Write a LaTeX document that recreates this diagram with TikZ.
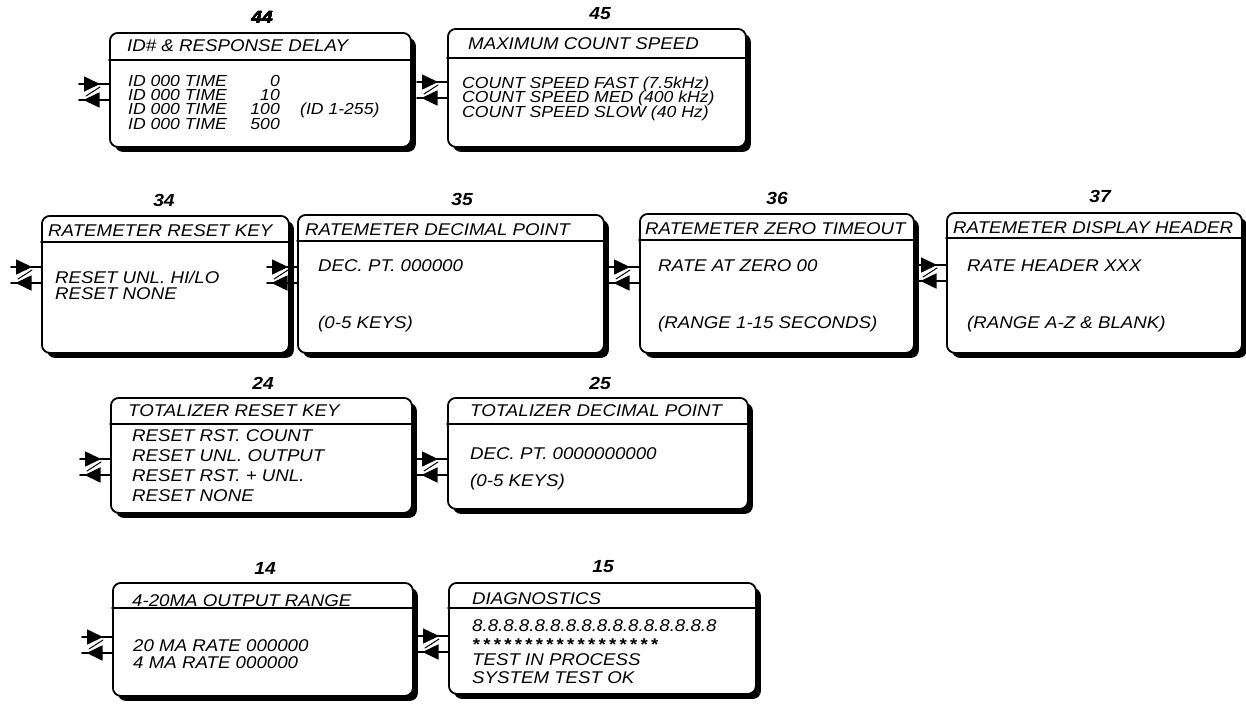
\documentclass[tikz,border=0pt]{standalone}
\usepackage{fontspec}
\setmainfont{Liberation Sans}[FakeStretch=1.1]
\usetikzlibrary{arrows.meta,shadows,decorations.markings}
\definecolor{menuInk}{HTML}{000000}
\definecolor{menuPaper}{HTML}{FFFFFF}

% in/out arrow pair at the left side of a menu box
\newcommand\portpair[2]{%
  \coordinate (#1-ib) at ([yshift=-#2pt]#1.north west);
  \coordinate (#1-ia) at ([xshift=-30pt]#1-ib);
  \coordinate (#1-ob) at ([yshift=-16pt]#1-ib);
  \coordinate (#1-oa) at ([xshift=-30pt]#1-ob);
  \draw[inport] (#1-ia) -- (#1-ib);
  \draw[outport] (#1-ob) -- (#1-oa);
  \draw[zline] ([xshift=-9pt,yshift=-3pt]#1-ib) -- ([xshift=-23pt,yshift=4pt]#1-ob);
}

\begin{document}
\begin{tikzpicture}[x=1pt,y=-1pt,>=Latex,line cap=round,line join=round]
\path[fill=menuPaper] (0,0) rectangle (1246,704);
\useasboundingbox (0,0) rectangle (1246,704);
\tikzset{panel/.style={draw=menuInk,fill=menuPaper,line width=1.8pt,rounded corners=8pt,inner sep=0pt,anchor=north west,drop shadow={shadow xshift=5pt,shadow yshift=-5pt,fill=menuInk,opacity=1}},
  rulebar/.style={draw=menuInk,line width=1.8pt},
  cad/.style={font=\itshape\fontsize{17}{17}\selectfont,text=menuInk,inner sep=0pt,anchor=base west},
  tight/.style={cad,font=\itshape\fontsize{16}{16}\selectfont},
  tag/.style={font=\bfseries\itshape\fontsize{17.5}{17.5}\selectfont,text=menuInk,inner sep=0pt,anchor=base},
  inport/.style={draw=menuInk,line width=1.6pt,postaction=decorate,decoration={markings,mark=at position 0.7 with {\arrow{Triangle[length=16pt,width=15pt]}}}},
  outport/.style={draw=menuInk,line width=1.6pt,postaction=decorate,decoration={markings,mark=at position 0.85 with {\arrow{Triangle[length=16pt,width=15pt]}}}},
  zline/.style={draw=menuInk,line width=1pt}}
% menu boxes: number/left/top/right/bottom
\foreach \n/\l/\t/\r/\b in {44/109/32/410/146,45/447/28/745/146,34/41/215/288/352,35/297/214/603/352,36/639/213/913/352,37/946/212/1241/352,24/110/397/411/512,25/447/397/747/508,14/112/582/412/695,15/448/582/755/693}
  \node[panel,minimum width={\r pt-\l pt},minimum height={\b pt-\t pt}] (b\n) at (\l,\t) {};
\foreach \n/\d in {44/28,45/30,34/27,35/27,36/27,37/26,24/27,25/27,14/26,15/26}
  \draw[rulebar] ([yshift=-\d pt]b\n.north west) -- ([yshift=-\d pt]b\n.north east);
\foreach \n/\d in {44/52,45/54,34/52,35/53,36/54,37/53,24/62,25/62,14/55,15/54}
  \portpair{b\n}{\d}
% menu numbers
\node[tag] (n44) at (262,23) {44};
\node[tag] (n45) at (600,19) {45};
\node[tag] (n34) at (164,206) {34};
\node[tag] (n35) at (462,205) {35};
\node[tag] (n36) at (777,204) {36};
\node[tag] (n37) at (1100,202) {37};
\node[tag] (n24) at (263,389) {24};
\node[tag] (n25) at (600,389) {25};
\node[tag] (n14) at (265,574) {14};
\node[tag] (n15) at (603,572) {15};
% titles
\node[cad] (t44) at (127,51.5) {ID\# \& RESPONSE DELAY};
\node[cad] (t45) at (468,49.5) {MAXIMUM COUNT SPEED};
\node[cad] (t34) at (48,236.5) {RATEMETER RESET KEY};
\node[cad] (t35) at (305,235.5) {RATEMETER DECIMAL POINT};
\node[cad] (t36) at (645,234.5) {RATEMETER ZERO TIMEOUT};
\node[cad] (t37) at (953,233.5) {RATEMETER DISPLAY HEADER};
\node[cad] (t24) at (128,416.5) {TOTALIZER RESET KEY};
\node[cad] (t25) at (470,416.5) {TOTALIZER DECIMAL POINT};
\node[cad] (t14) at (132,606.5) {4-20MA OUTPUT RANGE};
\node[cad] (t15) at (472,604.5) {DIAGNOSTICS};
% entries
\foreach \v [count=\i] in {0,10,100,500} {
  \node[tight] (l44-\i) at (128,{71.6+14.4*\i}) {ID 000 TIME};
  \node[tight,anchor=base east] (v44-\i) at (280,{71.6+14.4*\i}) {\v};
}
\node[tight] (r44) at (300,114.5) {(ID 1-255)};
\foreach \s [count=\i] in {{FAST (7.5kHz)},{MED (400 kHz)},{SLOW (40 Hz)}}
  \node[tight] (l45-\i) at (462,{73.5+14.6*\i}) {COUNT SPEED \s};
\node[cad] (l34-1) at (55,283.5) {RESET UNL. HI/LO};
\node[cad] (l34-2) at (55,299.5) {RESET NONE};
\node[cad] (l35-1) at (318,271.5) {DEC. PT. 000000};
\node[cad] (l35-2) at (318,328.5) {(0-5 KEYS)};
\node[cad] (l36-1) at (658,271.5) {RATE AT ZERO 00};
\node[cad] (l36-2) at (658,328.5) {(RANGE 1-15 SECONDS)};
\node[cad] (l37-1) at (967,271.5) {RATE HEADER XXX};
\node[cad] (l37-2) at (967,328.5) {(RANGE A-Z \& BLANK)};
\foreach \s [count=\i] in {{RST. COUNT},{UNL. OUTPUT},{RST. + UNL.},NONE}
  \node[cad] (l24-\i) at (132,{421.5+20*\i}) {RESET \s};
\node[cad] (l25-1) at (470,459.5) {DEC. PT. 0000000000};
\node[cad] (l25-2) at (470,486.5) {(0-5 KEYS)};
\node[cad] (l14-1) at (133,651.5) {20 MA RATE 000000};
\node[cad] (l14-2) at (133,668.5) {4 MA RATE 000000};
\node[cad] (l15-1) at (472,631.5) {8.8.8.8.8.8.8.8.8.8.8.8.8.8.8.8};
\node[cad] (l15-2) at (472,650) {\bfseries\foreach \k in {1,...,18}{*\hspace{3.2pt}}};
\node[cad] (l15-3) at (472,665) {TEST IN PROCESS};
\node[cad] (l15-4) at (472,683.5) {SYSTEM TEST OK};
\end{tikzpicture}
\end{document}
